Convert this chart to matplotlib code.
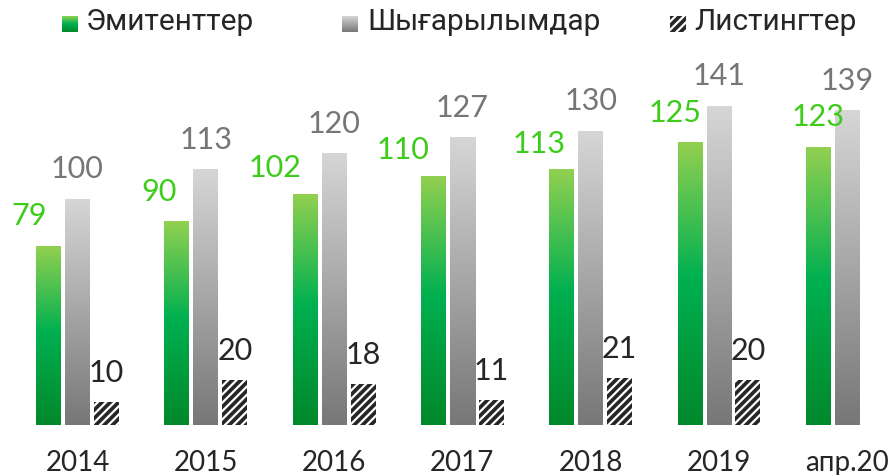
import numpy as np
import matplotlib.pyplot as plt
from matplotlib.colors import LinearSegmentedColormap

# data
periods = ['2014', '2015', '2016', '2017', '2018', '2019', 'апр.20']
emitents = [79, 90, 102, 110, 113, 125, 123]
issues = [100, 113, 120, 127, 130, 141, 139]
listings = [10, 20, 18, 11, 21, 20, None]
series_names = ['Эмитенттер', 'Шығарылымдар', 'Листингтер']

W, H, DPI = 895, 475, 100
plt.rcParams['hatch.linewidth'] = 1.6

green_cmap = LinearSegmentedColormap.from_list(
    'g', [(0, '#00882b'), (0.52, '#00b050'), (1, '#92d050')])
gray_cmap = LinearSegmentedColormap.from_list(
    'k', [(0, '#777777'), (1, '#d6d6d6')])
grad = np.linspace(0, 1, 256).reshape(-1, 1)

fig = plt.figure(figsize=(W / DPI, H / DPI), dpi=DPI)
ax = fig.add_axes([0, 50 / H, 1, 425 / H])

step = 128.3          # px between groups
px = 1 / step         # one pixel in x data units
bw = 25 * px
off = 29 * px
ypx = 1 / 2.26        # one pixel in y data units

num_font = ['Lato', 'DejaVu Sans']
leg_font = ['Roboto', 'DejaVu Sans']

# green label offsets (px) - labels were hand-placed in the original
gdx = [-19.5, -17.5, -30, -30, -23, -14.5, 0]
gdy = [30, 30, 26, 26, 26, 30, 30]

x = np.arange(len(periods))
for i in x:
    xg = i - off
    ax.imshow(grad, cmap=green_cmap, origin='lower', aspect='auto',
              extent=[xg - bw / 2, xg + bw / 2, 0, emitents[i]], zorder=2)
    ax.imshow(grad, cmap=gray_cmap, origin='lower', aspect='auto',
              extent=[i - bw / 2, i + bw / 2, 0, issues[i]], zorder=2)
    ax.text(xg + gdx[i] * px, emitents[i] + gdy[i] * ypx, str(emitents[i]),
            ha='center', va='center', fontsize=22, color='#3dcc1a',
            family=num_font, zorder=4)
    ax.text(i, issues[i] + 30 * ypx, str(issues[i]), ha='center', va='center',
            fontsize=22, color='#767676', family=num_font, zorder=4)
    if listings[i] is not None:
        ax.bar(i + off, listings[i], width=bw, color='#262626', hatch='////',
               edgecolor='white', linewidth=0, zorder=2)
        ax.text(i + off, listings[i] + 29 * ypx, str(listings[i]), ha='center',
                va='center', fontsize=22, color='#262626', family=num_font,
                zorder=4)

ax.set_xlim(-77.5 * px, (W - 77.5) * px)
ax.set_ylim(0, 425 * ypx)
ax.set_xticks(x)
ax.set_xticklabels(periods, fontsize=20, color='#262626', family=num_font)
ax.tick_params(axis='x', length=0, pad=18)
ax.set_yticks([])
for s in ax.spines.values():
    s.set_visible(False)

# legend drawn by hand
sq = [62, 342, 670]
tx = [86, 367, 694]
for k in range(3):
    lax = fig.add_axes([sq[k] / W, 1 - 32 / H, 16 / W, 16 / H])
    lax.set_axis_off()
    if k == 0:
        lax.imshow(grad, cmap=green_cmap, origin='lower', aspect='auto',
                   extent=[0, 1, 0, 1])
    elif k == 1:
        lax.imshow(grad, cmap=gray_cmap, origin='lower', aspect='auto',
                   extent=[0, 1, 0, 1])
    else:
        lax.bar(0.5, 1, width=1, color='#262626', hatch='////',
                edgecolor='white', linewidth=0)
    lax.set_xlim(0, 1)
    lax.set_ylim(0, 1)
    fig.text(tx[k] / W, 1 - 22 / H, series_names[k], ha='left', va='center',
             fontsize=21.5, color='#262626', family=leg_font)

fig.savefig('out.png', dpi=DPI)
